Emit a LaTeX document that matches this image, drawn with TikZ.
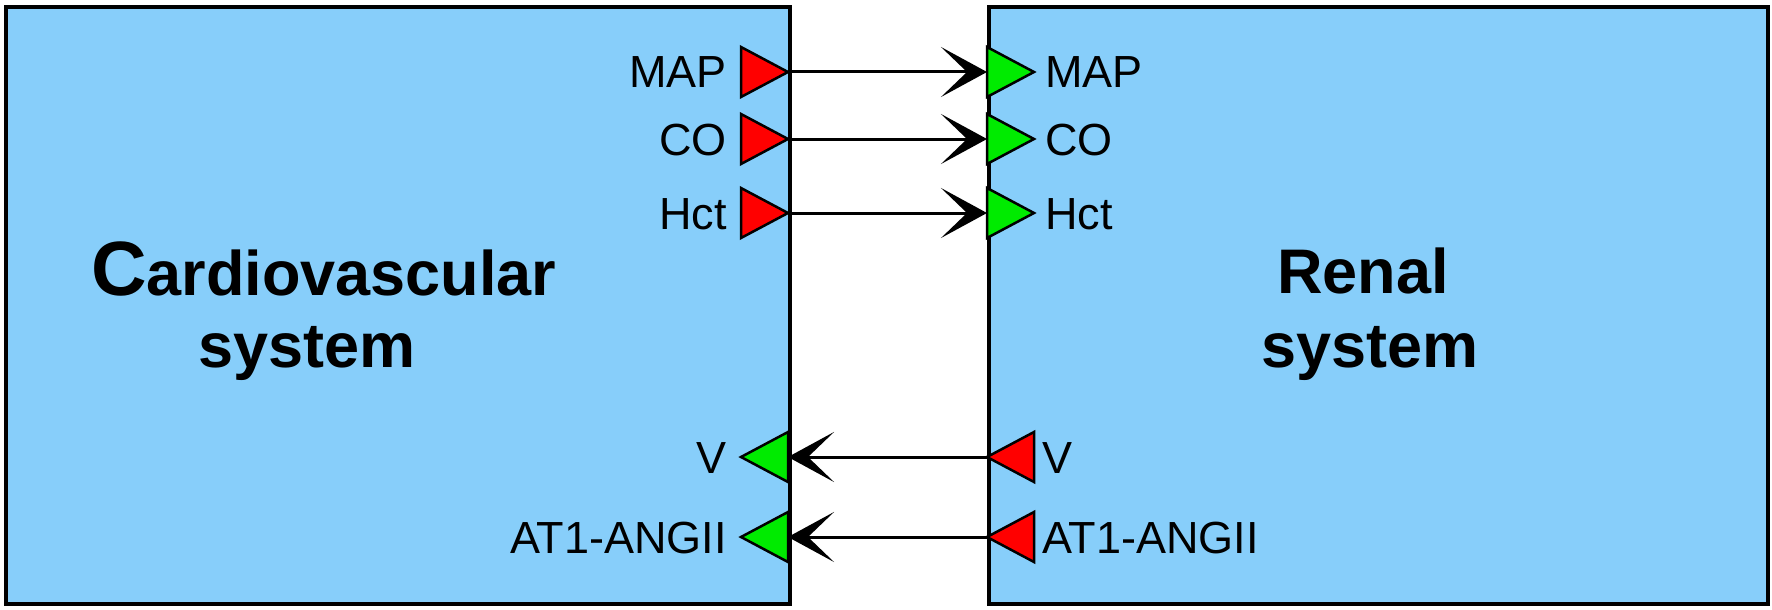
\documentclass[tikz,border=0pt]{standalone}
\usepackage{fontspec}
\setmainfont{Liberation Sans}
\usetikzlibrary{arrows.meta}
\definecolor{boxblue}{RGB}{135,206,250}
\definecolor{portred}{RGB}{255,0,0}
\definecolor{portgreen}{RGB}{0,235,0}
\tikzset{
  sysbox/.style={draw=black, line width=4pt, fill=boxblue},
  outport/.style={draw=black, line width=2.5pt, fill=portred, line join=miter},
  inport/.style={draw=black, line width=2.5pt, fill=portgreen, line join=miter},
  conn/.style={line width=3pt, -{Stealth[length=46pt, width=50pt, inset=26pt]}},
  plabel/.style={inner sep=0pt, font=\fontsize{45}{50}\selectfont},
  tlabel/.style={inner sep=0pt, font=\fontsize{63}{72}\selectfont\bfseries},
}
\begin{document}
\begin{tikzpicture}[x=1pt, y=-1pt]
\useasboundingbox (0,0) rectangle (1772,610);
% system boxes
\node[sysbox, minimum width=784pt, minimum height=597pt, inner sep=0pt, anchor=north west] (cvs) at (4,5) {};
\node[sysbox, minimum width=779pt, minimum height=597pt, inner sep=0pt, anchor=north west] (ren) at (987,5) {};
% titles
\node[tlabel, anchor=base west] (cvt1) at (91,295) {{\fontsize{77}{80}\selectfont C}ardiovascular};
\node[tlabel, anchor=base west] (cvt2) at (198,367) {system};
\node[tlabel, anchor=base west] (rnt1) at (1277,293) {Renal};
\node[tlabel, anchor=base west] (rnt2) at (1261,367) {system};
% port coordinates
\coordinate (mapo) at (788,72);  \coordinate (mapi) at (987,72);
\coordinate (coo)  at (788,139); \coordinate (coi)  at (987,139);
\coordinate (hcto) at (788,213); \coordinate (hcti) at (987,213);
\coordinate (vo)   at (987,457); \coordinate (vi)   at (788,457);
\coordinate (ato)  at (987,537); \coordinate (ati)  at (788,537);
% output ports of the cardiovascular system (red, pointing right)
\foreach \p in {mapo,coo,hcto}{
  \draw[outport] (\p) ++(-47,-25) -- (\p) -- ++(-47,25) -- cycle;
}
% input ports of the renal system (green, pointing right)
\foreach \p in {mapi,coi,hcti}{
  \draw[inport] (\p) ++(0,-25) -- ++(47,25) -- ++(-47,25) -- cycle;
}
% input ports of the cardiovascular system (green, pointing left)
\foreach \p in {vi,ati}{
  \draw[inport] (\p) ++(0,-25) -- ++(-47,25) -- ++(47,25) -- cycle;
}
% output ports of the renal system (red, pointing left)
\foreach \p in {vo,ato}{
  \draw[outport] (\p) ++(47,-25) -- (\p) -- ++(47,25) -- cycle;
}
% port labels
\node[plabel, anchor=base east] (lmap) at (727,88) {MAP};
\node[plabel, anchor=base east] (lco)  at (727,155) {CO};
\node[plabel, anchor=base east] (lhct) at (727,229) {Hct};
\node[plabel, anchor=base west] (rmap) at (1045,88) {MAP};
\node[plabel, anchor=base west] (rco)  at (1045,155) {CO};
\node[plabel, anchor=base west] (rhct) at (1045,229) {Hct};
\node[plabel, anchor=base east] (lv)   at (727,473) {V};
\node[plabel, anchor=base east] (lat)  at (727,553) {AT1-ANGII};
\node[plabel, anchor=base west] (rv)   at (1042,473) {V};
\node[plabel, anchor=base west] (rat)  at (1042,553) {AT1-ANGII};
% connectors
\draw[conn] (mapo) -- (mapi);
\draw[conn] (coo) -- (coi);
\draw[conn] (hcto) -- (hcti);
\draw[conn] (vo) -- (vi);
\draw[conn] (ato) -- (ati);
\end{tikzpicture}
\end{document}
